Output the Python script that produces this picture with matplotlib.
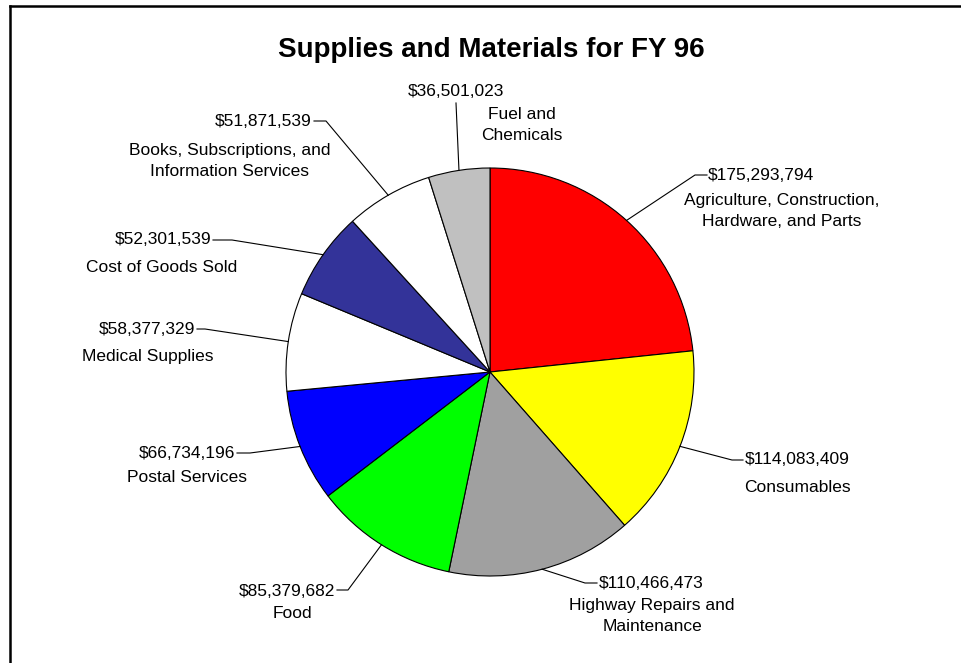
import numpy as np
import matplotlib.pyplot as plt
from matplotlib.lines import Line2D

plt.rcParams['font.family'] = ['Liberation Sans', 'DejaVu Sans']

# montos por rubro, en el orden en que se recorre la torta (sentido horario desde arriba)
rubros = ['Agriculture, Construction,\nHardware, and Parts', 'Consumables',
          'Highway Repairs and\nMaintenance', 'Food', 'Postal Services',
          'Medical Supplies', 'Cost of Goods Sold',
          'Books, Subscriptions, and\nInformation Services', 'Fuel and\nChemicals']
montos = [175293794, 114083409, 110466473, 85379682, 66734196,
          58377329, 52301539, 51871539, 36501023]
colores = ['#ff0000', '#ffff00', '#a0a0a0', '#00ff00', '#0000ff',
           '#ffffff', '#333399', '#ffffff', '#c0c0c0']

# ubicacion de etiquetas (en pixeles): codo de la linea, fin de la linea, texto monto, texto rubro
etiquetas = [
    ((695, 175), (707, 175), (708, 176, 'left'), (782, 211)),
    ((732, 460), (743, 460), (745, 460, 'left'), (797, 488)),
    ((585, 583), (597, 583), (599, 583, 'left'), (652, 616)),
    ((348, 590), (337, 590), (335, 591, 'right'), (292, 614)),
    ((250, 453), (237, 453), (235, 454, 'right'), (187, 478)),
    ((205, 329), (197, 329), (195, 330, 'right'), (148, 356)),
    ((232, 240), (213, 240), (211, 240, 'right'), (162, 268)),
    ((326, 121), (314, 121), (312, 121, 'right'), (230, 161)),
    ((456, 103), (456, 103), (456, 91, 'center'), (522, 125)),
]

W, H = 961, 663
centro = (490, 372)
radio = 204

fig = plt.figure(figsize=(W / 100, H / 100), dpi=100)
ax = fig.add_axes([0, 0, 1, 1])

# con el eje y invertido, counterclock=True se ve en sentido horario
wedges, _ = ax.pie(montos, colors=colores, startangle=-90, counterclock=True,
                   center=centro, radius=radio, frame=True,
                   wedgeprops=dict(edgecolor='black', linewidth=0.8))
ax.set_xlim(0, W)
ax.set_ylim(H, 0)
ax.set_aspect('equal')
ax.axis('off')

for w, monto, rubro, (codo, fin, txt, nom) in zip(wedges, montos, rubros, etiquetas):
    ang = np.deg2rad((w.theta1 + w.theta2) / 2)
    x0 = centro[0] + radio * np.cos(ang)
    y0 = centro[1] + radio * np.sin(ang)
    ax.plot([x0, codo[0], fin[0]], [y0, codo[1], fin[1]], color='black', lw=0.8)
    ax.text(txt[0], txt[1], '${:,}'.format(monto), ha=txt[2], va='center',
            fontsize=12.5, color='black')
    ax.text(nom[0], nom[1], rubro, ha='center', va='center', fontsize=12.5,
            color='black', linespacing=1.45)

ax.text(491, 50, 'Supplies and Materials for FY 96', ha='center', va='center',
        fontsize=20, fontweight='bold')

# borde izquierdo y superior del cuadro
fig.add_artist(Line2D([10 / W, 10 / W], [0, 1 - 6 / H], color='black', lw=1.8))
fig.add_artist(Line2D([10 / W, 1], [1 - 6 / H, 1 - 6 / H], color='black', lw=1.8))

fig.savefig('out.png', dpi=100)
